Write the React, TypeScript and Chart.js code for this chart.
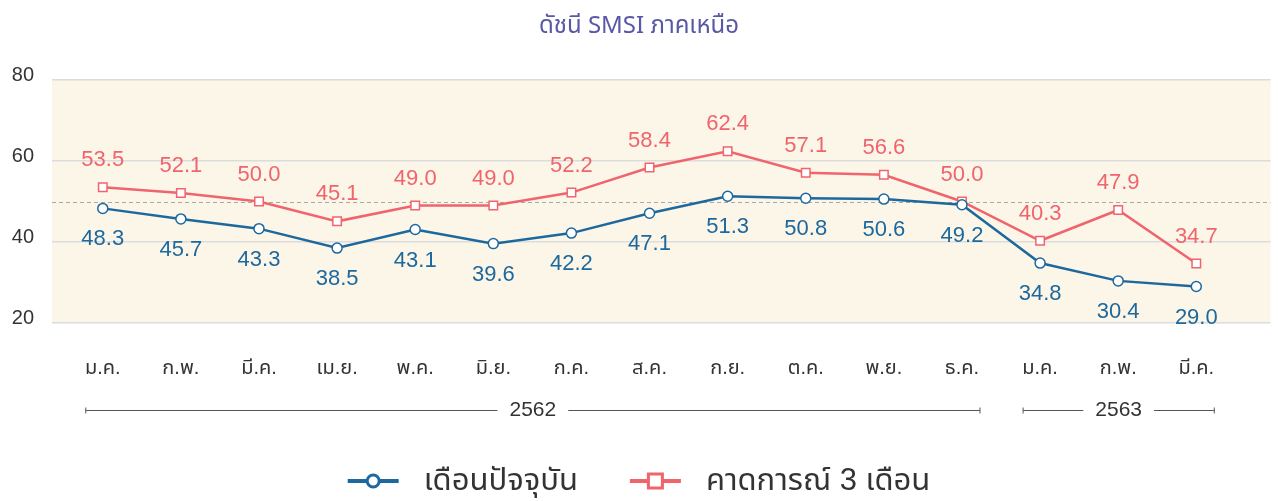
import { useEffect, useRef } from 'react';
import { Chart, registerables } from 'chart.js';

Chart.register(...registerables);

const title = 'ดัชนี SMSI ภาคเหนือ';
const months = ['ม.ค.', 'ก.พ.', 'มี.ค.', 'เม.ย.', 'พ.ค.', 'มิ.ย.', 'ก.ค.', 'ส.ค.', 'ก.ย.', 'ต.ค.', 'พ.ย.', 'ธ.ค.', 'ม.ค.', 'ก.พ.', 'มี.ค.'];
const currentMonth = [48.3, 45.7, 43.3, 38.5, 43.1, 39.6, 42.2, 47.1, 51.3, 50.8, 50.6, 49.2, 34.8, 30.4, 29.0];
const forecast3M = [53.5, 52.1, 50.0, 45.1, 49.0, 49.0, 52.2, 58.4, 62.4, 57.1, 56.6, 50.0, 40.3, 47.9, 34.7];
const seriesNames = ['เดือนปัจจุบัน', 'คาดการณ์ 3 เดือน'];
const yearLabels = ['2562', '2563'];
const yearFrom = [0, 12];
const yearTo = [11, 14];
const yTicks = [20, 40, 60, 80];
const thresholdValue = 50;

const BLUE = '#1d689d';
const RED = '#f0646d';
const TITLE_COLOR = '#5858a6';
const TEXT = '#333333';
const CREAM = '#fcf6e8';
const FONT = '"Liberation Sans", "Noto Sans Thai", Arial, sans-serif';
const TITLE_FONT = '"Noto Sans Thai", "Liberation Sans", sans-serif';

const decorPlugin = {
  id: 'decor',
  beforeDraw(chart: any) {
    const { ctx, chartArea } = chart;
    ctx.save();
    ctx.fillStyle = CREAM;
    ctx.fillRect(chartArea.left, chartArea.top, chartArea.right - chartArea.left, chartArea.bottom - chartArea.top);
    ctx.restore();
  },
  beforeDatasetsDraw(chart: any) {
    const { ctx, chartArea, scales } = chart;
    const y = Math.round(scales.y.getPixelForValue(thresholdValue)) + 0.5;
    ctx.save();
    ctx.strokeStyle = '#a8a8a8';
    ctx.lineWidth = 1;
    ctx.setLineDash([4, 3]);
    ctx.beginPath();
    ctx.moveTo(chartArea.left, y);
    ctx.lineTo(chartArea.right, y);
    ctx.stroke();
    ctx.restore();
  },
  afterDatasetsDraw(chart: any) {
    const { ctx } = chart;
    ctx.save();
    ctx.font = `22px ${FONT}`;
    ctx.textAlign = 'center';
    ctx.textBaseline = 'middle';
    chart.data.datasets.forEach((ds: any, di: number) => {
      const meta = chart.getDatasetMeta(di);
      meta.data.forEach((pt: any, i: number) => {
        const v = ds.data[i].y as number;
        ctx.fillStyle = di === 0 ? BLUE : RED;
        const dy = di === 0 ? 31 : -27;
        ctx.fillText(v.toFixed(1), pt.x, pt.y + dy);
      });
    });
    ctx.restore();
  },
  afterDraw(chart: any) {
    const { ctx, scales, width } = chart;
    ctx.save();
    // title
    ctx.fillStyle = TITLE_COLOR;
    ctx.font = `24px ${TITLE_FONT}`;
    ctx.textAlign = 'center';
    ctx.textBaseline = 'middle';
    ctx.fillText(title, width / 2, 28);

    // year brackets
    const yy = 410.5;
    ctx.font = `21px ${FONT}`;
    yearLabels.forEach((lab, k) => {
      const x1 = scales.x.getPixelForValue(yearFrom[k]) - 17;
      const x2 = scales.x.getPixelForValue(yearTo[k]) + 18;
      const cx = (x1 + x2) / 2;
      const tw = ctx.measureText(lab).width;
      ctx.strokeStyle = '#555555';
      ctx.lineWidth = 1;
      ctx.beginPath();
      ctx.moveTo(x1, yy);
      ctx.lineTo(cx - tw / 2 - 12, yy);
      ctx.moveTo(cx + tw / 2 + 12, yy);
      ctx.lineTo(x2, yy);
      ctx.moveTo(x1, yy - 3);
      ctx.lineTo(x1, yy + 3);
      ctx.moveTo(x2, yy - 3);
      ctx.lineTo(x2, yy + 3);
      ctx.stroke();
      ctx.fillStyle = TEXT;
      ctx.fillText(lab, cx, yy);
    });

    // legend
    const ly = 481;
    ctx.font = `31px ${FONT}`;
    const markerW = 51;
    const gapText = 25;
    const gapItem = 52;
    const widths = seriesNames.map((n) => ctx.measureText(n).width);
    const total = widths.reduce((a, b) => a + b, 0) + 2 * (markerW + gapText) + gapItem;
    let x = width / 2 - total / 2;
    seriesNames.forEach((n, k) => {
      const col = k === 0 ? BLUE : RED;
      ctx.strokeStyle = col;
      ctx.lineWidth = 4;
      ctx.beginPath();
      ctx.moveTo(x, ly);
      ctx.lineTo(x + markerW, ly);
      ctx.stroke();
      ctx.fillStyle = '#ffffff';
      ctx.lineWidth = 3;
      const cx = x + markerW / 2;
      if (k === 0) {
        ctx.beginPath();
        ctx.arc(cx, ly, 6, 0, Math.PI * 2);
        ctx.fill();
        ctx.stroke();
      } else {
        ctx.fillRect(cx - 7, ly - 7, 14, 14);
        ctx.strokeRect(cx - 7, ly - 7, 14, 14);
      }
      x += markerW + gapText;
      ctx.fillStyle = TEXT;
      ctx.textAlign = 'left';
      ctx.fillText(n, x, ly);
      x += widths[k] + gapItem;
    });
    ctx.restore();
  },
};

export default function App() {
  const ref = useRef<HTMLCanvasElement | null>(null);
  useEffect(() => {
    document.body.style.margin = '0';
    const canvas = ref.current;
    if (!canvas) return;
    const chart = new Chart(canvas, {
      type: 'line',
      data: {
        datasets: [
          {
            label: seriesNames[0],
            data: currentMonth.map((v, i) => ({ x: i, y: v })),
            borderColor: BLUE,
            borderWidth: 2.5,
            pointStyle: 'circle',
            pointRadius: 5,
            pointBorderWidth: 1.5,
            pointBackgroundColor: '#ffffff',
            pointBorderColor: BLUE,
            tension: 0,
          },
          {
            label: seriesNames[1],
            data: forecast3M.map((v, i) => ({ x: i, y: v })),
            borderColor: RED,
            borderWidth: 2.5,
            pointStyle: 'rect',
            pointRadius: 6,
            pointBorderWidth: 1.5,
            pointBackgroundColor: '#ffffff',
            pointBorderColor: RED,
            tension: 0,
          },
        ],
      },
      options: {
        responsive: false,
        animation: false,
        layout: { padding: { top: 80, right: 3, left: 0, bottom: 0 } },
        plugins: {
          legend: { display: false },
          title: { display: false },
          tooltip: { enabled: false },
        },
        scales: {
          x: {
            type: 'linear',
            min: -0.65,
            max: 14.95,
            grid: { display: false, drawTicks: false },
            border: { display: false },
            afterBuildTicks: (scale: any) => {
              scale.ticks = months.map((_, i) => ({ value: i }));
            },
            afterFit: (scale: any) => {
              scale.height = 501 - 323;
            },
            ticks: {
              autoSkip: false,
              maxRotation: 0,
              padding: 33,
              color: TEXT,
              font: { size: 20, family: FONT },
              callback: (v: any) => months[v as number] ?? '',
            },
          },
          y: {
            min: 20,
            max: 80,
            afterBuildTicks: (scale: any) => {
              scale.ticks = yTicks.map((v) => ({ value: v }));
            },
            afterFit: (scale: any) => {
              scale.width = 52;
            },
            grid: { color: '#dcdcdc', lineWidth: 1.5, drawTicks: false },
            border: { display: false },
            ticks: {
              padding: 18,
              labelOffset: -5,
              color: TEXT,
              font: { size: 20, family: FONT },
            },
          },
        },
      },
      plugins: [decorPlugin],
    });
    return () => chart.destroy();
  }, []);
  return <canvas ref={ref} width={1278} height={501} style={{ display: 'block' }} />;
}
